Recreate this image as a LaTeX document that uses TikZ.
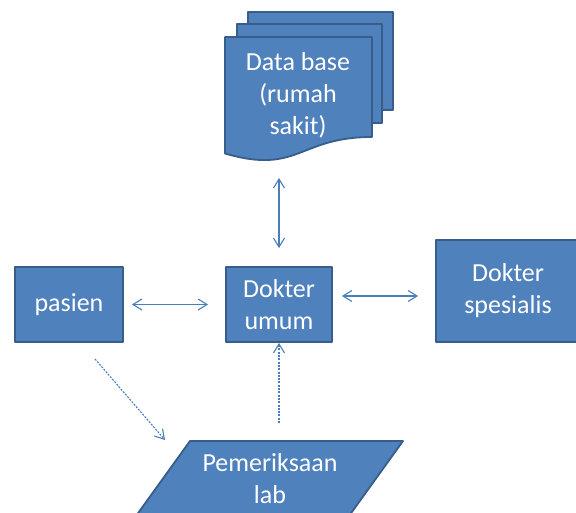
\documentclass[tikz,border=0pt]{standalone}
\usepackage{fontspec}
\setmainfont{Carlito}
\usetikzlibrary{arrows.meta}
\definecolor{boxfill}{HTML}{4F81BD}
\definecolor{boxline}{HTML}{385D8A}
\definecolor{arrowc}{HTML}{4A7EBB}
\begin{document}
\begin{tikzpicture}[x=1pt,y=-1pt,
  shapeline/.style={draw=boxline, line width=1.8pt, fill=boxfill, line join=round},
  box/.style={shapeline, text=white, font=\fontsize{26}{32}\selectfont, align=center, inner sep=0pt},
  label/.style={text=white, font=\fontsize{26}{32}\selectfont, align=center, inner sep=0pt},
  tipb/.tip={Straight Barb[length=9pt,width=11pt]},
  conn/.style={draw=arrowc, line width=1.1pt, tipb-tipb},
  dconn/.style={draw=arrowc, line width=1.1pt, dash pattern=on 2pt off 1.3pt, -tipb}]
\useasboundingbox (0,0) rectangle (576,513);
\clip (0,0) rectangle (576,513);

% multidocument
\path[shapeline] (248,12) rectangle (393,110);
\path[shapeline] (237,24) rectangle (382,123);
\path[shapeline] (225,37) -- (372,37) -- (372,137)
  .. controls (298.5,137) and (298.5,175) .. (225,153.5) -- cycle;
\node[label] (db) at (298,95) {Data base\\(rumah\\sakit)};

% boxes
\node[box, minimum width=108pt, minimum height=75pt] (pasien) at (69,304.5) {pasien};
\node[box, minimum width=106pt, minimum height=75pt] (umum) at (279,304.5) {Dokter\\umum};
\node[box, minimum width=144pt, minimum height=102pt] (spesialis) at (508,291) {Dokter\\spesialis};

% parallelogram
\path[shapeline] (190,441) -- (403,441) -- (349,516) -- (136,516) -- cycle;
\node[label] (lab) at (270,478.5) {Pemeriksaan\\lab};

% connectors
\coordinate (dbtip) at (279,178);
\draw[conn, shorten >=18pt] (dbtip) -- (umum.north);
\draw[conn, shorten <=8pt, shorten >=17pt] (pasien.east) -- (umum.west);
\path ([yshift=8.5pt]umum.east) coordinate (r1);
\draw[conn, shorten <=9pt, shorten >=17pt] (r1) -- (r1 -| spesialis.west);
\coordinate (p1) at (95,359);
\coordinate (labin) at (165,440);
\draw[dconn] (p1) -- (labin);
\coordinate (labout) at (279,423);
\draw[dconn] (labout) -- (umum.south);
\end{tikzpicture}
\end{document}
